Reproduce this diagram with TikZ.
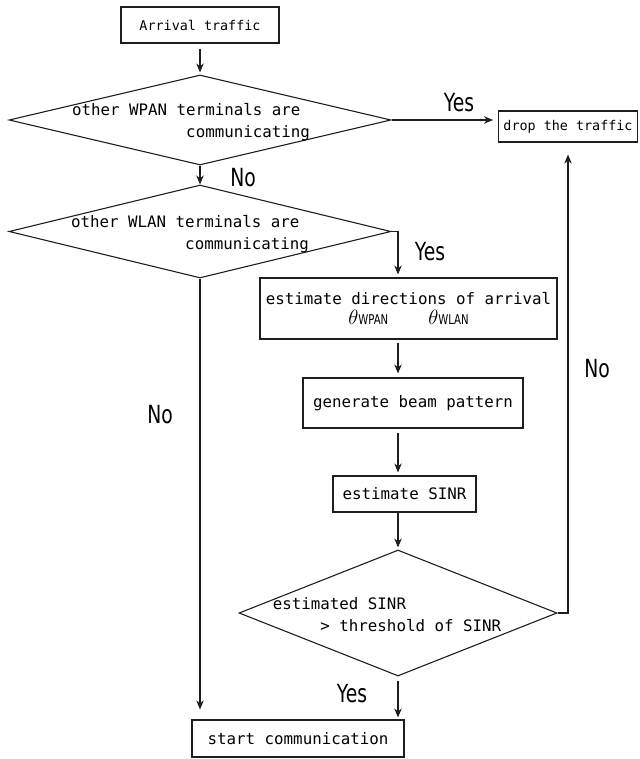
\documentclass[tikz,border=0pt]{standalone}
\usepackage{fontspec}
\usepackage{tikz}
\usetikzlibrary{arrows.meta,positioning,calc,shapes.geometric}
\setmonofont{DejaVu Sans Mono}
\newfontfamily\etiqueta{DejaVu Sans}[FakeStretch=0.75]
\definecolor{trazo}{RGB}{30,30,30}
\newcommand{\angulo}[1]{{\fontsize{21}{21}\selectfont$\theta$}{\fontsize{13.5}{15}\selectfont\etiqueta #1}}

\begin{document}
\begin{tikzpicture}[x=1pt,y=-1pt,>={Stealth[length=9pt,width=7.5pt]},line width=1.1pt,
    caja/.style={draw=trazo,rectangle,inner sep=0pt,align=center,font=\ttfamily\fontsize{15.8}{22}\selectfont},
    cajachica/.style={caja,font=\ttfamily\fontsize{13.4}{16}\selectfont},
    rombo/.style={draw=trazo,diamond,inner sep=0pt},
    texrombo/.style={inner sep=0pt,align=left,font=\ttfamily\fontsize{15.8}{22}\selectfont},
    etq/.style={inner sep=0pt,font=\etiqueta\fontsize{25}{25}\selectfont}]
        \useasboundingbox (0,0) rectangle (639,759);
        \coordinate (col) at (398,0);
        % cajas
        \node[cajachica,minimum width=158pt,minimum height=36pt] (llegada) at (200,25) {Arrival traffic};
        \node[cajachica,minimum width=139pt,minimum height=31pt] (drop) at (568,126.5) {drop the traffic};
        \node[caja,minimum width=297pt,minimum height=61pt] (est) at (408.5,308.5)
          {estimate directions of arrival\\[-2pt]
           \angulo{WPAN}\hspace{40pt}\angulo{WLAN}};
        \node[caja,minimum width=220pt,minimum height=50pt] (gen) at (413,403) {generate beam pattern};
        \node[caja,minimum width=143pt,minimum height=36pt] (sinr) at (404.5,494) {estimate SINR};
        \node[caja,minimum width=212pt,minimum height=37pt] (inicio) at (298,738.5) {start communication};
        % rombos
        \node[rombo,minimum width=382pt,minimum height=90pt] (dwpan) at (200,120) {};
        \node[texrombo] (twpan) at (191,122) {other WPAN terminals are\\\hphantom{000000000000}communicating};
        \node[rombo,minimum width=382pt,minimum height=93pt] (dwlan) at (200,231.5) {};
        \node[texrombo] (twlan) at (190,234.5) {other WLAN terminals are\\\hphantom{000000000000}communicating};
        \node[rombo,minimum width=318pt,minimum height=126pt] (dsinr) at (398,613) {};
        \node[texrombo] (tsinr) at (387,615) {estimated SINR\\\hphantom{00000}> threshold of SINR};
        % flechas
        \draw[->,trazo,shorten <=5pt,shorten >=2pt] (llegada.south) -- (dwpan.north);
        \draw[->,trazo] (dwpan.south) -- (dwlan.north);
        \draw[->,trazo,shorten >=5pt] (dwpan.east) -- (dwpan.east -| drop.west);
        \draw[->,trazo,shorten >=3pt] (dwlan.east) -| (est.north -| col);
        \draw[->,trazo,shorten >=10pt] (dwlan.south) -- (dwlan.south |- inicio.north);
        \draw[->,trazo,shorten <=3pt,shorten >=4pt] (est.south -| col) -- (gen.north -| col);
        \draw[->,trazo,shorten <=4pt,shorten >=3pt] (gen.south -| col) -- (sinr.north -| col);
        \draw[->,trazo,shorten >=2pt] (sinr.south -| col) -- (dsinr.north);
        \draw[->,trazo,shorten <=4pt,shorten >=2pt] (dsinr.south) -- (dsinr.south |- inicio.north);
        \draw[->,trazo,shorten >=12pt] (dsinr.east) -| (drop.south);
        % etiquetas
        \node[etq] (si1) at (459,103) {Yes};
        \node[etq] (no1) at (243,178) {No};
        \node[etq] (si2) at (430,252) {Yes};
        \node[etq] (no2) at (160,415) {No};
        \node[etq] (no3) at (597,369) {No};
        \node[etq] (si3) at (352,694) {Yes};
      \end{tikzpicture}
\end{document}
